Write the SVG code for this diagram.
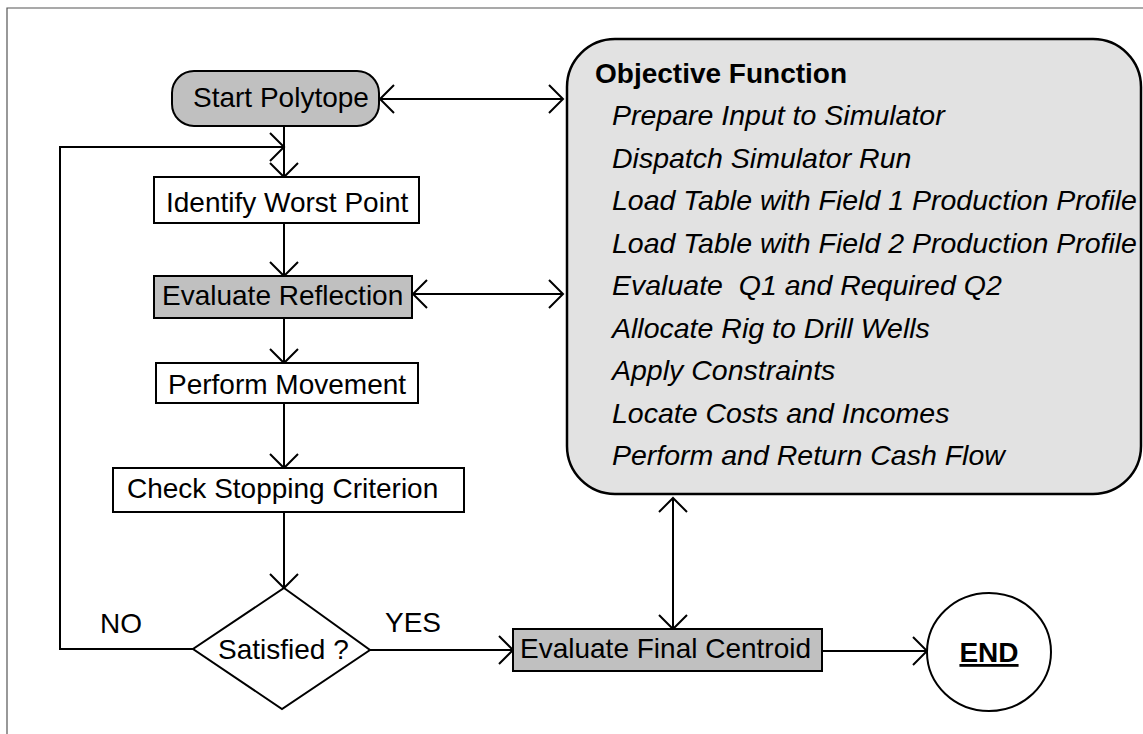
<svg xmlns="http://www.w3.org/2000/svg" width="1143" height="734" viewBox="0 0 1143 734">
<style>
  text { font-family: "Liberation Sans", Arial, sans-serif; font-size: 28px; fill: #000; }
  .box { stroke: #000; stroke-width: 2; fill: #fff; }
  .grey { fill: #c0c0c0; }
  .obj { fill: #e2e2e2; stroke: #000; stroke-width: 2.5; }
  .conn { fill: none; stroke: #000; stroke-width: 2; }
  .it { font-style: italic; font-size: 28.5px; }
  .b { font-weight: bold; }
</style>
<defs>
  <marker id="ah" markerUnits="userSpaceOnUse" markerWidth="32" markerHeight="32" refX="16" refY="16" orient="auto-start-reverse" viewBox="0 0 32 32">
    <path d="M2,2 L16,16 L2,30" fill="none" stroke="#000" stroke-width="2"/>
  </marker>
</defs>
<rect width="1143" height="734" fill="#fff"/>
<path d="M7,734 V8 H1143" fill="none" stroke="#555" stroke-width="1.2"/>

<g id="connectors">
  <path class="conn" d="M284,126 V177" marker-end="url(#ah)"/>
  <path class="conn" d="M193,649 H60 V147 H284" marker-end="url(#ah)"/>
  <path class="conn" d="M284,223 V276" marker-end="url(#ah)"/>
  <path class="conn" d="M284,318 V363" marker-end="url(#ah)"/>
  <path class="conn" d="M284,403 V468" marker-end="url(#ah)"/>
  <path class="conn" d="M284,512 V588" marker-end="url(#ah)"/>
  <path class="conn" d="M370,650 H513" marker-end="url(#ah)"/>
  <path class="conn" d="M822,651 H927" marker-end="url(#ah)"/>
  <path class="conn" d="M380,99 H563" marker-start="url(#ah)" marker-end="url(#ah)"/>
  <path class="conn" d="M413,294 H563" marker-start="url(#ah)" marker-end="url(#ah)"/>
  <path class="conn" d="M673,498 V629" marker-start="url(#ah)" marker-end="url(#ah)"/>
</g>

<g id="start">
  <rect class="box grey" x="172" y="71" width="207" height="55" rx="22"/>
  <text x="193" y="107">Start Polytope</text>
</g>
<g id="identify">
  <rect class="box" x="154" y="177" width="265" height="46"/>
  <text x="166" y="212">Identify Worst Point</text>
</g>
<g id="reflection">
  <rect class="box grey" x="154" y="276" width="258" height="42"/>
  <text x="162" y="305">Evaluate Reflection</text>
</g>
<g id="movement">
  <rect class="box" x="156" y="363" width="262" height="40"/>
  <text x="168" y="394">Perform Movement</text>
</g>
<g id="stopping">
  <rect class="box" x="113" y="468" width="351" height="44"/>
  <text x="127" y="498">Check Stopping Criterion</text>
</g>
<g id="satisfied">
  <polygon class="box" points="284,588 370,650 282,709 193,649"/>
  <text x="218" y="659">Satisfied ?</text>
</g>
<g id="labels">
  <text x="100" y="633">NO</text>
  <text x="385" y="632">YES</text>
</g>
<g id="centroid">
  <rect class="box grey" x="513" y="629" width="309" height="42"/>
  <text x="520" y="658">Evaluate Final Centroid</text>
</g>
<g id="end">
  <ellipse class="box" cx="989" cy="652" rx="62" ry="59"/>
  <text x="989" y="662" text-anchor="middle" class="b" text-decoration="underline">END</text>
</g>
<g id="objective">
  <rect class="obj" x="567" y="39" width="574" height="455" rx="48"/>
  <text x="595" y="83" class="b">Objective Function</text>
  <text x="612" y="125" class="it">Prepare Input to Simulator</text>
  <text x="612" y="167.5" class="it">Dispatch Simulator Run</text>
  <text x="612" y="210" class="it">Load Table with Field 1 Production Profile</text>
  <text x="612" y="252.5" class="it">Load Table with Field 2 Production Profile</text>
  <text x="612" y="295" class="it" xml:space="preserve">Evaluate  Q1 and Required Q2</text>
  <text x="612" y="337.5" class="it">Allocate Rig to Drill Wells</text>
  <text x="612" y="380" class="it">Apply Constraints</text>
  <text x="612" y="422.5" class="it">Locate Costs and Incomes</text>
  <text x="612" y="465" class="it">Perform and Return Cash Flow</text>
</g>
</svg>
